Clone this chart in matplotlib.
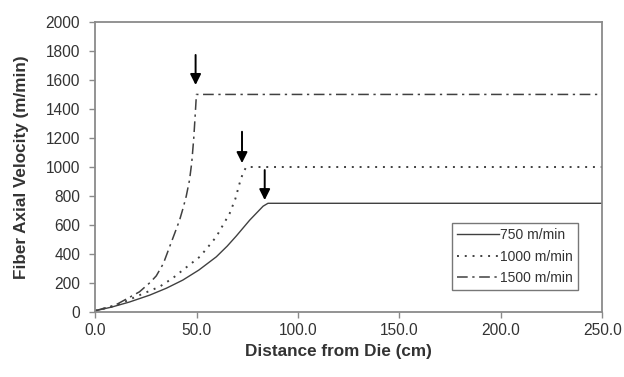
import matplotlib
matplotlib.use("Agg")
import matplotlib.pyplot as plt

plt.rcParams['font.family'] = ['Liberation Sans', 'DejaVu Sans']

x750 = [0, 8, 16.8, 26.7, 35, 43.1, 51, 59.6, 65, 69.5, 76.1, 82.7, 85.1, 250]
v750 = [10, 35, 70, 117, 165, 221, 290, 381, 455, 525, 634, 730, 750, 750]
x1000 = [0, 10, 21.7, 31.6, 38.2, 43.1, 51.4, 55, 59.6, 62.9, 66.2, 69, 71.1, 72.8, 74.4, 250]
v1000 = [10, 45, 117, 175, 235, 290, 381, 440, 519, 600, 680, 780, 887, 960, 1000, 1000]
x1500 = [0, 10, 21.7, 27, 30, 33.5, 36.6, 39, 41.5, 43.3, 44.8, 46.4, 47.5, 48.5, 49.3, 49.8, 250]
v1500 = [10, 50, 140, 205, 250, 335, 451, 540, 634, 720, 800, 910, 1030, 1200, 1380, 1500, 1500]
labels = ['750 m/min', '1000 m/min', '1500 m/min']

# arrows: (x, top, tip)
arrows = [(49.4, 1772, 1565), (72.3, 1243, 1027), (83.5, 979, 772)]

fig = plt.figure(figsize=(6.24, 3.77), dpi=100)
ax = fig.add_axes([0.153, 0.172, 0.812, 0.770])

lc = '#404040'
ax.plot(x750, v750, color=lc, lw=1.0, ls='-', label=labels[0])
ax.plot(x1000, v1000, color=lc, lw=1.4, ls=(0, (1.0, 3.0)), label=labels[1])
ax.plot(x1500, v1500, color=lc, lw=1.1, ls=(0, (7, 3, 1.5, 3)), label=labels[2])

for xa, top, tip in arrows:
    ax.annotate('', xy=(xa, tip), xytext=(xa, top),
                arrowprops=dict(arrowstyle='-|>', color='black', lw=1.4,
                                mutation_scale=16, shrinkA=0, shrinkB=0))

ax.set_xlim(0, 250)
ax.set_ylim(0, 2000)
ax.set_xticks([0, 50, 100, 150, 200, 250])
ax.set_xticklabels(['0.0', '50.0', '100.0', '150.0', '200.0', '250.0'])
ax.set_yticks(range(0, 2001, 200))

for s in ax.spines.values():
    s.set_color('#8a8a8a')
    s.set_linewidth(1.3)
ax.tick_params(colors='#8a8a8a', labelcolor='#333333', labelsize=11.2,
               length=4, width=1, direction='out')
ax.tick_params(axis='y', pad=7)
ax.tick_params(axis='x', pad=4)

ax.set_xlabel('Distance from Die (cm)', fontsize=12.3, fontweight='bold',
              color='#333333', labelpad=4)
ax.xaxis.label.set_x(0.479)
ax.set_ylabel('Fiber Axial Velocity (m/min)', fontsize=12.3, fontweight='bold',
              color='#333333', labelpad=12)

leg = ax.legend(loc='upper left', bbox_to_anchor=(0.704, 0.307), fontsize=10,
                frameon=True, fancybox=False, handlelength=3.0, handletextpad=0.1,
                borderpad=0.35, labelspacing=0.55, borderaxespad=0)
leg.get_frame().set_edgecolor('#555555')
leg.get_frame().set_linewidth(1.0)
for t in leg.get_texts():
    t.set_color('#333333')

fig.savefig('out.png', dpi=100)
